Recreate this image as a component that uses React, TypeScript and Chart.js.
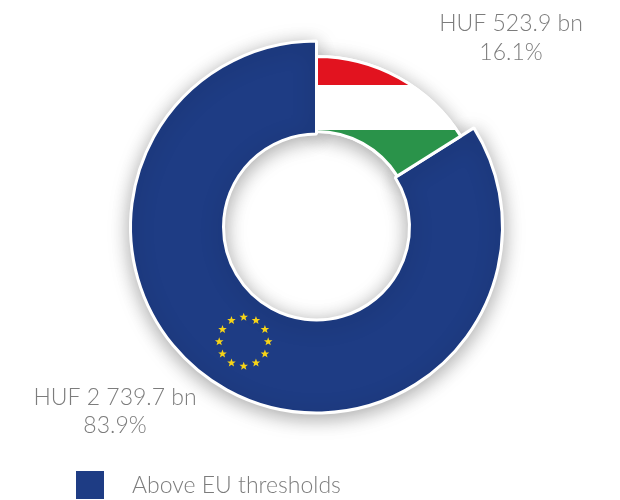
import React, { useEffect, useRef } from "react";
import { Chart, registerables } from "chart.js";

Chart.register(...registerables);

const categories = ["Above EU thresholds", "Below EU thresholds"];
const amounts = [2739.7, 523.9];
const amountLabels = ["HUF 2 739.7 bn", "HUF 523.9 bn"];
const shareLabels = ["83.9%", "16.1%"];
const sliceBlue = "#1e3c84";
const flagColors = ["#e2131f", "#ffffff", "#2a934a"];
const starColor = "#f7d417";
const textColor = "#7c7c7c";
const FONT = "Lato, 'Open Sans', sans-serif";

const OUTER = 186;
const INNER = 93;
const SMALL_OUTER = 170.5;
const SMALL_INNER = 95.5;

function flagFill(chart: any) {
  const a = chart.chartArea;
  if (!a) return flagColors[1];
  const cy = (a.top + a.bottom) / 2;
  const top = cy - 170;
  const bottom = cy - 54;
  const g = chart.ctx.createLinearGradient(0, top, 0, bottom);
  const s1 = 28 / 116;
  const s2 = 73 / 116;
  g.addColorStop(0, flagColors[0]);
  g.addColorStop(s1, flagColors[0]);
  g.addColorStop(s1, flagColors[1]);
  g.addColorStop(s2, flagColors[1]);
  g.addColorStop(s2, flagColors[2]);
  g.addColorStop(1, flagColors[2]);
  return g;
}

function starPath(ctx: CanvasRenderingContext2D, x: number, y: number, r: number) {
  ctx.beginPath();
  for (let i = 0; i < 10; i++) {
    const rr = i % 2 === 0 ? r : r * 0.42;
    const a = -Math.PI / 2 + (i * Math.PI) / 5;
    const px = x + rr * Math.cos(a);
    const py = y + rr * Math.sin(a);
    if (i === 0) ctx.moveTo(px, py);
    else ctx.lineTo(px, py);
  }
  ctx.closePath();
}

const donutDecor = {
  id: "donutDecor",
  afterDatasetsUpdate(chart: any) {
    const small = chart.getDatasetMeta(0).data[1];
    if (small) {
      small.outerRadius = SMALL_OUTER;
      small.innerRadius = SMALL_INNER;
      const base = Object.getPrototypeOf(small).draw;
      small.draw = (ctx: CanvasRenderingContext2D, area: any) => {
        ctx.save();
        ctx.shadowColor = "transparent";
        base.call(small, ctx, area);
        ctx.restore();
      };
    }
  },
  beforeDatasetDraw(chart: any) {
    const c = chart.ctx;
    const small = chart.getDatasetMeta(0).data[1];
    c.save();
    c.shadowColor = "rgba(0,0,0,0.34)";
    c.shadowBlur = 20;
    c.shadowOffsetX = 0;
    c.shadowOffsetY = 4;
    if (small) Object.getPrototypeOf(small).draw.call(small, c, chart.chartArea);
  },
  afterDatasetDraw(chart: any) {
    chart.ctx.restore();
  },
  afterDatasetsDraw(chart: any) {
    const c = chart.ctx;
    const arc = chart.getDatasetMeta(0).data[0];
    const ringX = arc.x - 72.8;
    const ringY = arc.y + 114.7;
    c.save();
    c.fillStyle = starColor;
    for (let i = 0; i < 12; i++) {
      const a = (i * Math.PI) / 6;
      starPath(c, ringX + 24.5 * Math.cos(a), ringY + 24.5 * Math.sin(a), 4.5);
      c.fill();
    }
    c.fillStyle = textColor;
    c.font = `300 23px ${FONT}`;
    c.textAlign = "center";
    c.textBaseline = "middle";
    c.fillText(amountLabels[1], 511, 24);
    c.fillText(shareLabels[1], 511, 53);
    c.fillText(amountLabels[0], 115, 397.5);
    c.fillText(shareLabels[0], 115, 425.5);
    c.restore();
  },
};

export default function App() {
  const ref = useRef<HTMLCanvasElement>(null);
  useEffect(() => {
    const total = amounts[0] + amounts[1];
    const chart = new Chart(ref.current!, {
      type: "doughnut",
      data: {
        labels: categories,
        datasets: [
          {
            data: amounts,
            backgroundColor: (ctx: any) => (ctx.dataIndex === 1 ? flagFill(ctx.chart) : sliceBlue),
            borderColor: "#ffffff",
            borderWidth: 3,
          },
        ],
      },
      options: {
        responsive: false,
        animation: false,
        rotation: (360 * amounts[1]) / total,
        radius: OUTER,
        cutout: `${(INNER / OUTER) * 100}%`,
        layout: { padding: { left: 13, bottom: 46 } },
        plugins: { legend: { display: false }, tooltip: { enabled: false } },
      },
      plugins: [donutDecor],
    } as any);
    return () => chart.destroy();
  }, []);
  return (
    <div style={{ position: "fixed", left: 0, top: 0, width: 620, height: 500, overflow: "hidden", background: "#fff" }}>
      <canvas ref={ref} width={620} height={500} style={{ display: "block" }} />
      <div style={{ position: "absolute", left: 76, top: 471, width: 28, height: 28, background: sliceBlue }} />
      <div
        style={{
          position: "absolute",
          left: 132,
          top: 471,
          lineHeight: "26px",
          fontFamily: FONT,
          fontWeight: 300,
          fontSize: 23,
          color: textColor,
          whiteSpace: "nowrap",
        }}
      >
        {categories[0]}
      </div>
    </div>
  );
}
